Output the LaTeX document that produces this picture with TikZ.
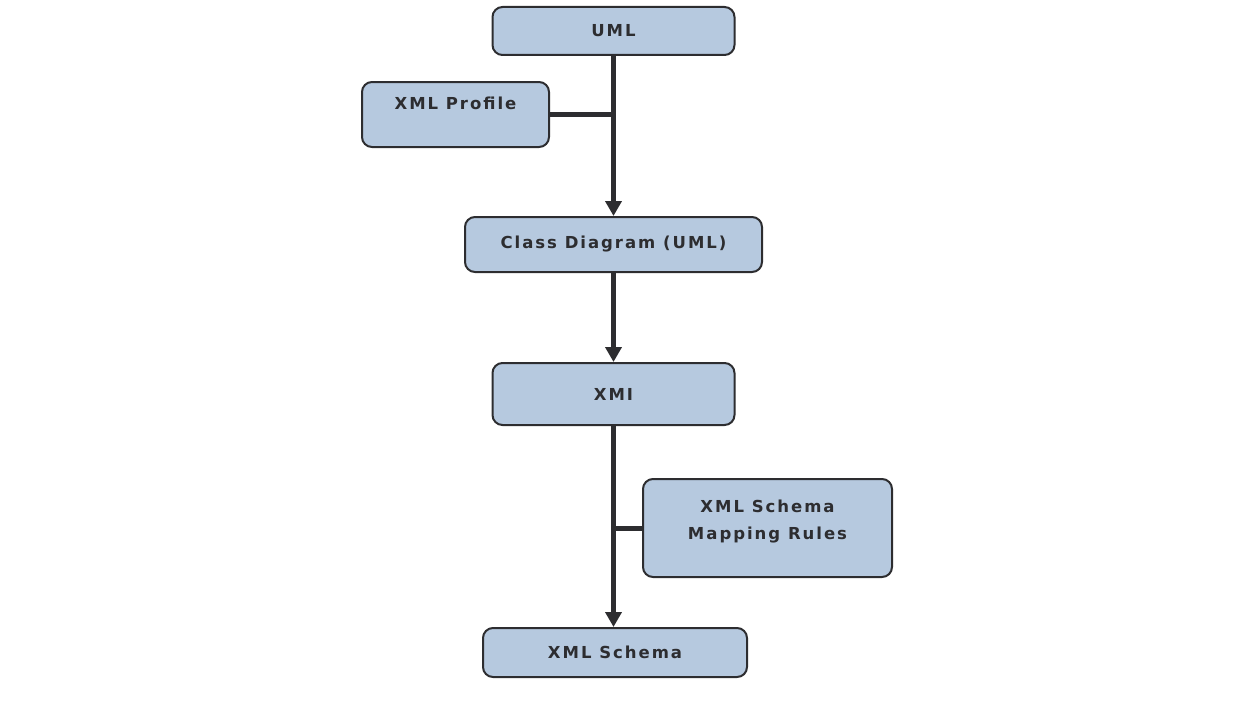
\documentclass[tikz,border=0pt]{standalone}
\usepackage{fontspec}
\newfontfamily\boxfont[LetterSpace=12]{DejaVu Sans}
\usetikzlibrary{arrows.meta}

\definecolor{boxfill}{RGB}{182,201,223}
\definecolor{ink}{RGB}{45,45,48}

\tikzset{
  stage/.style={draw=ink, line width=2pt, fill=boxfill, rounded corners=10pt,
    inner sep=0pt, align=center, text=ink,
    font=\boxfont\bfseries\fontsize{16.5}{27}\selectfont},
  flow/.style={draw=ink, line width=5pt, -{Triangle[length=15pt,width=16pt]}},
  branch/.style={draw=ink, line width=5pt},
}

\begin{document}
\begin{tikzpicture}[x=1pt,y=-1pt]
  \useasboundingbox (0,0) rectangle (1257,701);

  % processing chain, top to bottom
  \node[stage, minimum width=242pt, minimum height=48pt] (uml) at (613.5,31) {UML};
  \node[stage, minimum width=187pt, minimum height=65pt, text depth=22pt] (prof) at (455.5,114.5) {XML Profile};
  \node[stage, minimum width=297pt, minimum height=55pt] (cd) at (613.5,244.5) {Class Diagram (UML)};
  \node[stage, minimum width=242pt, minimum height=62pt] (xmi) at (613.5,394) {XMI};
  \node[stage, minimum width=249pt, minimum height=98pt, text depth=16pt] (map) at (767.5,528) {XML Schema\\Mapping Rules};
  \node[stage, minimum width=264pt, minimum height=49pt] (xsd) at (615,652.5) {XML Schema};

  % trunk with arrows
  \draw[flow] (uml.south) -- (uml.south |- cd.north);
  \draw[flow] (cd.south) -- (cd.south |- xmi.north);
  \draw[flow] (xmi.south) -- (xmi.south |- xsd.north);

  % side inputs joining the trunk
  \draw[branch] (prof.east) -- (prof.east -| uml.south);
  \draw[branch] (map.west) -- (map.west -| xmi.south);
\end{tikzpicture}
\end{document}
